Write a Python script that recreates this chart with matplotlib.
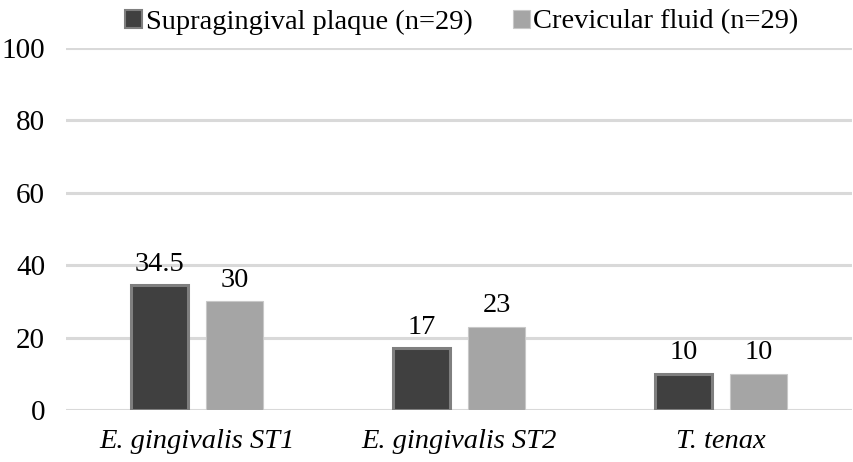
import matplotlib
matplotlib.use("Agg")
from matplotlib import pyplot as plt
from matplotlib.patches import Patch
import numpy as np

categories = ["E. gingivalis ST1", "E. gingivalis ST2", "T. tenax"]
plaque = [34.5, 17, 10]
fluid = [30, 23, 10]
plaque_labels = ["34.5", "17", "10"]
fluid_labels = ["30", "23", "10"]

plt.rcParams["font.family"] = ["Liberation Serif", "DejaVu Serif"]

fig = plt.figure(figsize=(8.54, 4.62), dpi=100)
ax = fig.add_axes([66 / 854, 1 - 410 / 462, (852 - 66) / 854, 362 / 462])

x = np.arange(len(categories))
w = 0.22
b1 = ax.bar(x - 0.143, plaque, w, color="#404040", edgecolor="#7f7f7f", linewidth=2.2, zorder=3)
b2 = ax.bar(x + 0.143, fluid, w, color="#a5a5a5", edgecolor="#c8c8c8", linewidth=0.8, zorder=3)

for bar, lab in zip(b1, plaque_labels):
    ax.text(bar.get_x() + bar.get_width() / 2, bar.get_height() + 2.3, lab,
            ha="center", va="bottom", fontsize=20.5)
for bar, lab in zip(b2, fluid_labels):
    ax.text(bar.get_x() + bar.get_width() / 2, bar.get_height() + 2.3, lab,
            ha="center", va="bottom", fontsize=20.5)

ax.set_xlim(-0.5, 2.5)
ax.set_ylim(0, 100)
ax.set_yticks(range(0, 101, 20))
ax.set_xticks(x)
ax.set_xticklabels(categories, fontstyle="italic", fontsize=20.5)
ax.tick_params(axis="y", labelsize=21, length=0, pad=15)
ax.tick_params(axis="x", length=0, pad=14)
ax.yaxis.grid(True, color="#d9d9d9", linewidth=2.2, zorder=0)
ax.set_axisbelow(True)
for s in ax.spines.values():
    s.set_visible(False)

handles = [Patch(facecolor="#404040", edgecolor="#7f7f7f", linewidth=1.5),
           Patch(facecolor="#a5a5a5", edgecolor="#c8c8c8", linewidth=0.8)]
fig.legend(handles, ["Supragingival plaque (n=29)", "Crevicular fluid (n=29)"],
           loc="upper center", bbox_to_anchor=(0.541, 1.035), ncol=2, frameon=False,
           fontsize=20.5, handlelength=0.6, handleheight=0.6, handletextpad=0.12,
           columnspacing=1.42)

fig.savefig("out.png", dpi=100)
